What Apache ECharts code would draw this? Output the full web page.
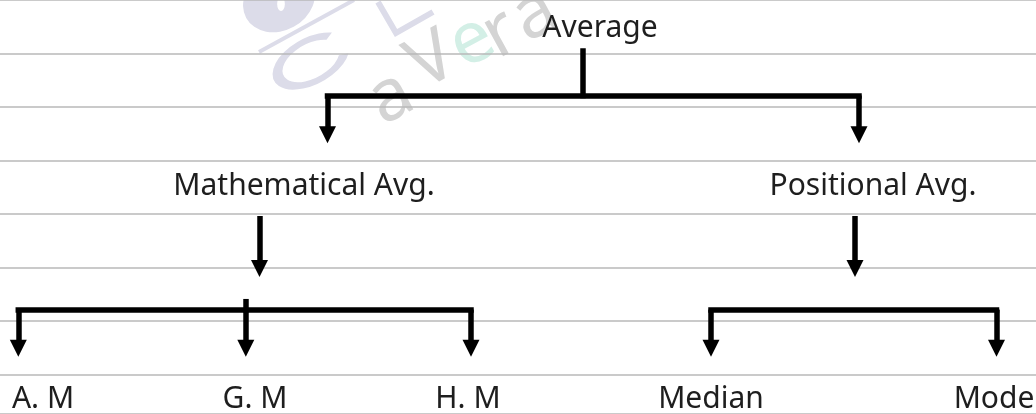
<!DOCTYPE html>
<html>
<head>
<meta charset="utf-8">
<style>
  html, body { margin: 0; padding: 0; background: #fff; }
  #chart { width: 1036px; height: 414px; }
</style>
<script src="https://cdn.jsdelivr.net/npm/echarts@6/dist/echarts.min.js"></script>
</head>
<body>
<div id="chart"></div>
<script>
  // node labels and where they sit (diagram units = px of the 1036x414 sheet)
  var nodeNames = ['Average', 'Mathematical Avg.', 'Positional Avg.', 'A. M', 'G. M', 'H. M', 'Median', 'Mode'];
  var nodeX = [600, 304, 873, 43, 255, 468, 711, 994];
  var nodeY = [28, 186, 186, 399, 399, 399, 399, 399];

  // connector pieces without heads: [x1, y1, x2, y2]
  var barSegments = [
    [583, 51, 583, 95.5],
    [327.5, 95.5, 859, 95.5],
    [18.3, 309.6, 471, 309.6],
    [245.8, 301.7, 245.8, 309.6],
    [711, 309.6, 996.5, 309.6]
  ];
  // arrows: [x, yFrom, yTip]
  var arrowDrops = [
    [327.5, 95.5, 143.3],
    [859, 95.5, 143.3],
    [259.5, 216, 277],
    [855, 216, 277],
    [18.3, 309.6, 356.7],
    [245.8, 309.6, 356.7],
    [471, 309.6, 356.7],
    [711, 309.6, 356.7],
    [996.5, 309.6, 356.7]
  ];
  // ruled paper lines
  var ruleStep = 53.5;

  var headSize = 17;
  var black = '#000';

  var chart = echarts.init(document.getElementById('chart'));

  var wmGray = '#d4d4d4';
  var wmLav = '#dcdce9';
  function wmLetter(ch, x, y, color) {
    return {
      type: 'text', x: x, y: y, rotation: 0.5, z: -1,
      style: {
        text: ch, fill: color, fontFamily: 'Noto Sans', fontSize: 72,
        align: 'center', verticalAlign: 'middle'
      }
    };
  }

  chart.setOption({
    animation: false,
    grid: { left: 0, right: 0, top: 0, bottom: 0 },
    xAxis: {
      type: 'value', min: 0, max: 1036,
      axisLine: { show: false }, axisTick: { show: false }, axisLabel: { show: false },
      splitLine: { show: false }
    },
    yAxis: {
      type: 'value', min: 0, max: 414, interval: ruleStep, inverse: true,
      axisLine: { show: false }, axisTick: { show: false }, axisLabel: { show: false },
      splitLine: { show: true, lineStyle: { color: '#b9b9b9', width: 1.5 } }
    },
    graphic: [
      // watermark
      {
        type: 'circle', x: 279, y: 0, z: -1, scaleX: 1.1, scaleY: 0.9, rotation: 0.5,
        shape: { r: 34 }, style: { fill: wmLav }
      },
      {
        type: 'circle', x: 281, y: 4, z: -1, scaleX: 0.55, scaleY: 1,
        shape: { r: 7 }, style: { fill: '#fff' }
      },
      {
        type: 'line', z: -1,
        shape: { x1: 259, y1: 52, x2: 354, y2: 0 },
        style: { stroke: wmLav, lineWidth: 4 }
      },
      {
        type: 'arc', x: 311, y: 61, z: -1, scaleX: 1.35, scaleY: 0.75, rotation: 0.5,
        shape: { cx: 0, cy: 0, r: 27, startAngle: 0.5, endAngle: Math.PI * 2 - 0.7 },
        style: { stroke: wmLav, lineWidth: 8, fill: null }
      },
      {
        type: 'polyline', z: -1,
        shape: { points: [[378, 2], [396, 33], [433, 12]] },
        style: { stroke: wmLav, lineWidth: 6, fill: null }
      },
      wmLetter('a', 391, 98, wmGray),
      wmLetter('V', 432, 62, wmGray),
      wmLetter('e', 472, 42, '#d3efe6'),
      wmLetter('r', 501, 34, wmGray),
      wmLetter('a', 535, 15, wmGray)
    ],
    series: [
      {
        type: 'lines',
        coordinateSystem: 'cartesian2d',
        silent: true,
        symbol: 'none',
        lineStyle: { color: black, width: 5.5, opacity: 1, cap: 'square' },
        data: barSegments.map(function (s) {
          return { coords: [[s[0], s[1]], [s[2], s[3]]] };
        })
      },
      {
        // arrow shafts, stop where the head starts
        type: 'lines',
        coordinateSystem: 'cartesian2d',
        silent: true,
        symbol: 'none',
        lineStyle: { color: black, width: 5.5, opacity: 1 },
        data: arrowDrops.map(function (a) {
          return { coords: [[a[0], a[1]], [a[0], a[2] - headSize + 1]] };
        })
      },
      {
        // arrow heads
        type: 'scatter',
        silent: true,
        symbol: 'triangle',
        symbolSize: headSize,
        symbolRotate: 180,
        itemStyle: { color: black, opacity: 1 },
        data: arrowDrops.map(function (a) { return [a[0], a[2] - headSize / 2]; })
      },
      {
        type: 'scatter',
        silent: true,
        symbolSize: 1,
        itemStyle: { color: 'transparent', opacity: 1 },
        label: {
          show: true, position: 'inside',
          formatter: function (p) { return p.data[2]; },
          fontFamily: 'Noto Sans', fontSize: 30, color: '#1e1e1e', opacity: 1
        },
        data: nodeNames.map(function (n, i) { return [nodeX[i], nodeY[i], n]; })
      }
    ]
  });
</script>
</body>
</html>
